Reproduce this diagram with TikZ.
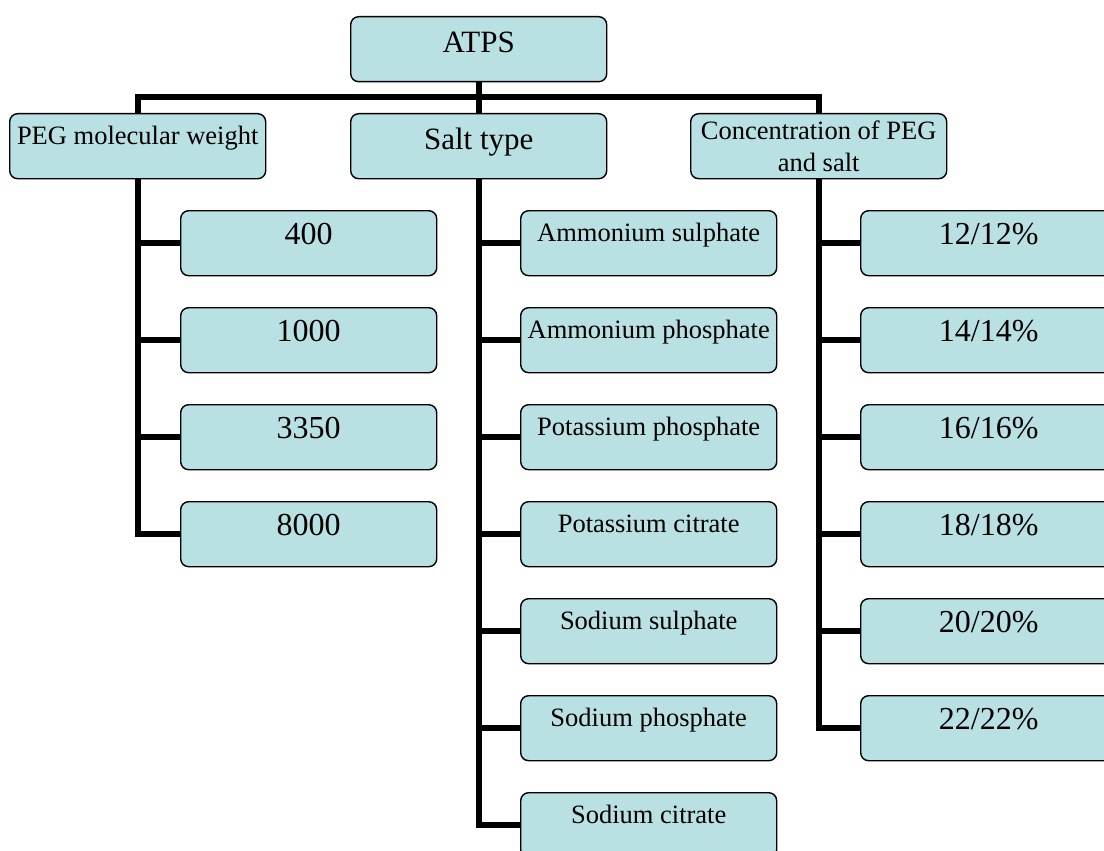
\documentclass[tikz,border=0pt]{standalone}
\usepackage{fontspec}
\setmainfont{Liberation Serif}
\usetikzlibrary{backgrounds}
\definecolor{boxfill}{RGB}{185,224,227}
\tikzset{
  box/.style={draw=black, line width=1.4pt, fill=boxfill, rounded corners=8pt,
    minimum width=256pt, minimum height=65pt, inner sep=0pt, anchor=north west},
  head/.style={box, font=\fontsize{31}{33}\selectfont, text height=35.5pt, text depth=29.5pt},
  lbl/.style={box, font=\fontsize{26.5}{32}\selectfont, text height=31pt, text depth=34pt},
  twoline/.style={box, font=\fontsize{26.5}{32}\selectfont, align=center},
  num/.style={box, font=\fontsize{32}{34}\selectfont, text height=34pt, text depth=31pt},
  conn/.style={line width=6pt, line join=miter}
}
\begin{document}
\begin{tikzpicture}[x=1pt, y=-1pt]
\clip (0,0) rectangle (1104,851);

% top level
\node[head]    (atps) at (350,16)  {ATPS};
\node[lbl]     (peg)  at (9,113)   {PEG molecular weight};
\node[head]    (salt) at (350,113) {Salt type};
\node[twoline] (conc) at (690,113) {Concentration of PEG\\and salt};
\coordinate (bus) at (478,97);

% PEG molecular weight branch
\node[num] (p400)  at (180,210) {400};
\node[num] (p1000) at (180,307) {1000};
\node[num] (p3350) at (180,404) {3350};
\node[num] (p8000) at (180,501) {8000};

% salt branch
\node[lbl] (s1) at (520,210) {Ammonium sulphate};
\node[lbl] (s2) at (520,307) {Ammonium phosphate};
\node[lbl] (s3) at (520,404) {Potassium phosphate};
\node[lbl] (s4) at (520,501) {Potassium citrate};
\node[lbl] (s5) at (520,598) {Sodium sulphate};
\node[lbl] (s6) at (520,695) {Sodium phosphate};
\node[lbl] (s7) at (520,792) {Sodium citrate};

% concentration branch
\node[num] (c1) at (860,210) {12/12\%};
\node[num] (c2) at (860,307) {14/14\%};
\node[num] (c3) at (860,404) {16/16\%};
\node[num] (c4) at (860,501) {18/18\%};
\node[num] (c5) at (860,598) {20/20\%};
\node[num] (c6) at (860,695) {22/22\%};

% white page and connectors, kept behind the boxes
\begin{scope}[on background layer]
  \fill[white] (0,0) rectangle (1104,851);

  \draw[conn] (atps.south) -- (salt.north);
  \draw[conn] (peg.north) |- (bus) -| (conc.north);

  \draw[conn] (peg.south) |- (p8000.west);
  \foreach \n in {p400,p1000,p3350}
    \draw[conn] (peg.south |- \n.west) -- (\n.west);

  \draw[conn] (salt.south) |- (s7.west);
  \foreach \n in {s1,s2,s3,s4,s5,s6}
    \draw[conn] (salt.south |- \n.west) -- (\n.west);

  \draw[conn] (conc.south) |- (c6.west);
  \foreach \n in {c1,c2,c3,c4,c5}
    \draw[conn] (conc.south |- \n.west) -- (\n.west);
\end{scope}
\end{tikzpicture}
\end{document}
